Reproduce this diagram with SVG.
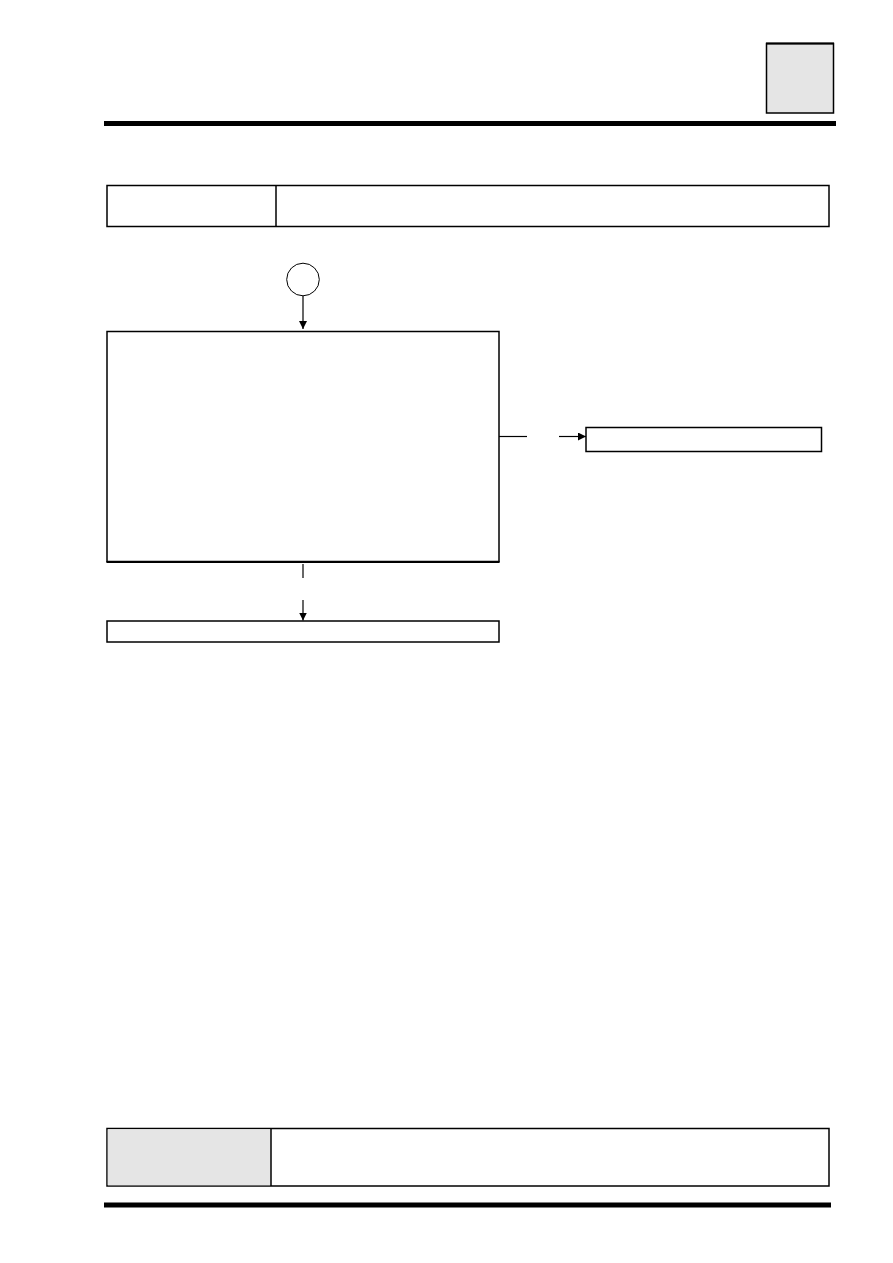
<svg xmlns="http://www.w3.org/2000/svg" width="893" height="1263" viewBox="0 0 893 1263">
<style>
.box{fill:#fff;stroke:#000;stroke-width:1.5}
.grey{fill:#e5e5e5;stroke:#000;stroke-width:1.5}
.bar{fill:#000}
.conn{stroke:#000;stroke-width:1.2;fill:none}
</style>
<defs>
<marker id="ah" markerWidth="8" markerHeight="8" refX="8" refY="4" orient="auto" markerUnits="userSpaceOnUse">
<path d="M0,0 L8,4 L0,8 Z" fill="#000"/>
</marker>
</defs>
<rect width="893" height="1263" fill="#fff"/>
<g id="tab-marker">
<rect class="grey" x="766.5" y="43.5" width="67" height="69.5"/>
<line x1="766" y1="43.5" x2="834" y2="43.5" stroke="#000" stroke-width="2"/>
</g>
<rect class="bar" x="104" y="121" width="732" height="5"/>
<g id="header-table">
<rect class="box" x="107" y="185.5" width="722" height="41"/>
<line x1="276" y1="185.5" x2="276" y2="226.5" stroke="#000" stroke-width="1.5"/>
</g>
<g id="start">
<circle cx="303" cy="279.5" r="16.3" fill="#fff" stroke="#000" stroke-width="1"/>
</g>
<g id="main-box">
<rect class="box" x="107" y="331.5" width="392" height="230"/>
<line x1="106.5" y1="562" x2="499.5" y2="562" stroke="#000" stroke-width="2"/>
</g>
<g id="right-box">
<rect class="box" x="586" y="427.5" width="235.5" height="24"/>
</g>
<g id="bottom-box">
<rect class="box" x="107" y="621" width="392" height="21"/>
</g>
<g id="connectors">
<line class="conn" x1="303" y1="296" x2="303" y2="329" marker-end="url(#ah)"/>
<line class="conn" x1="499" y1="436.5" x2="527" y2="436.5"/>
<line class="conn" x1="559" y1="436.5" x2="586" y2="436.5" marker-end="url(#ah)"/>
<line class="conn" x1="303" y1="564" x2="303" y2="578"/>
<line class="conn" x1="303" y1="600" x2="303" y2="620.5" marker-end="url(#ah)"/>
</g>
<g id="footer-table">
<rect class="box" x="107" y="1128.5" width="722" height="57.5"/>
<rect x="107.75" y="1129.25" width="163" height="56" fill="#e5e5e5"/>
<line x1="271" y1="1128.5" x2="271" y2="1186" stroke="#000" stroke-width="1.5"/>
</g>
<rect class="bar" x="104" y="1202.5" width="727" height="5"/>
</svg>
